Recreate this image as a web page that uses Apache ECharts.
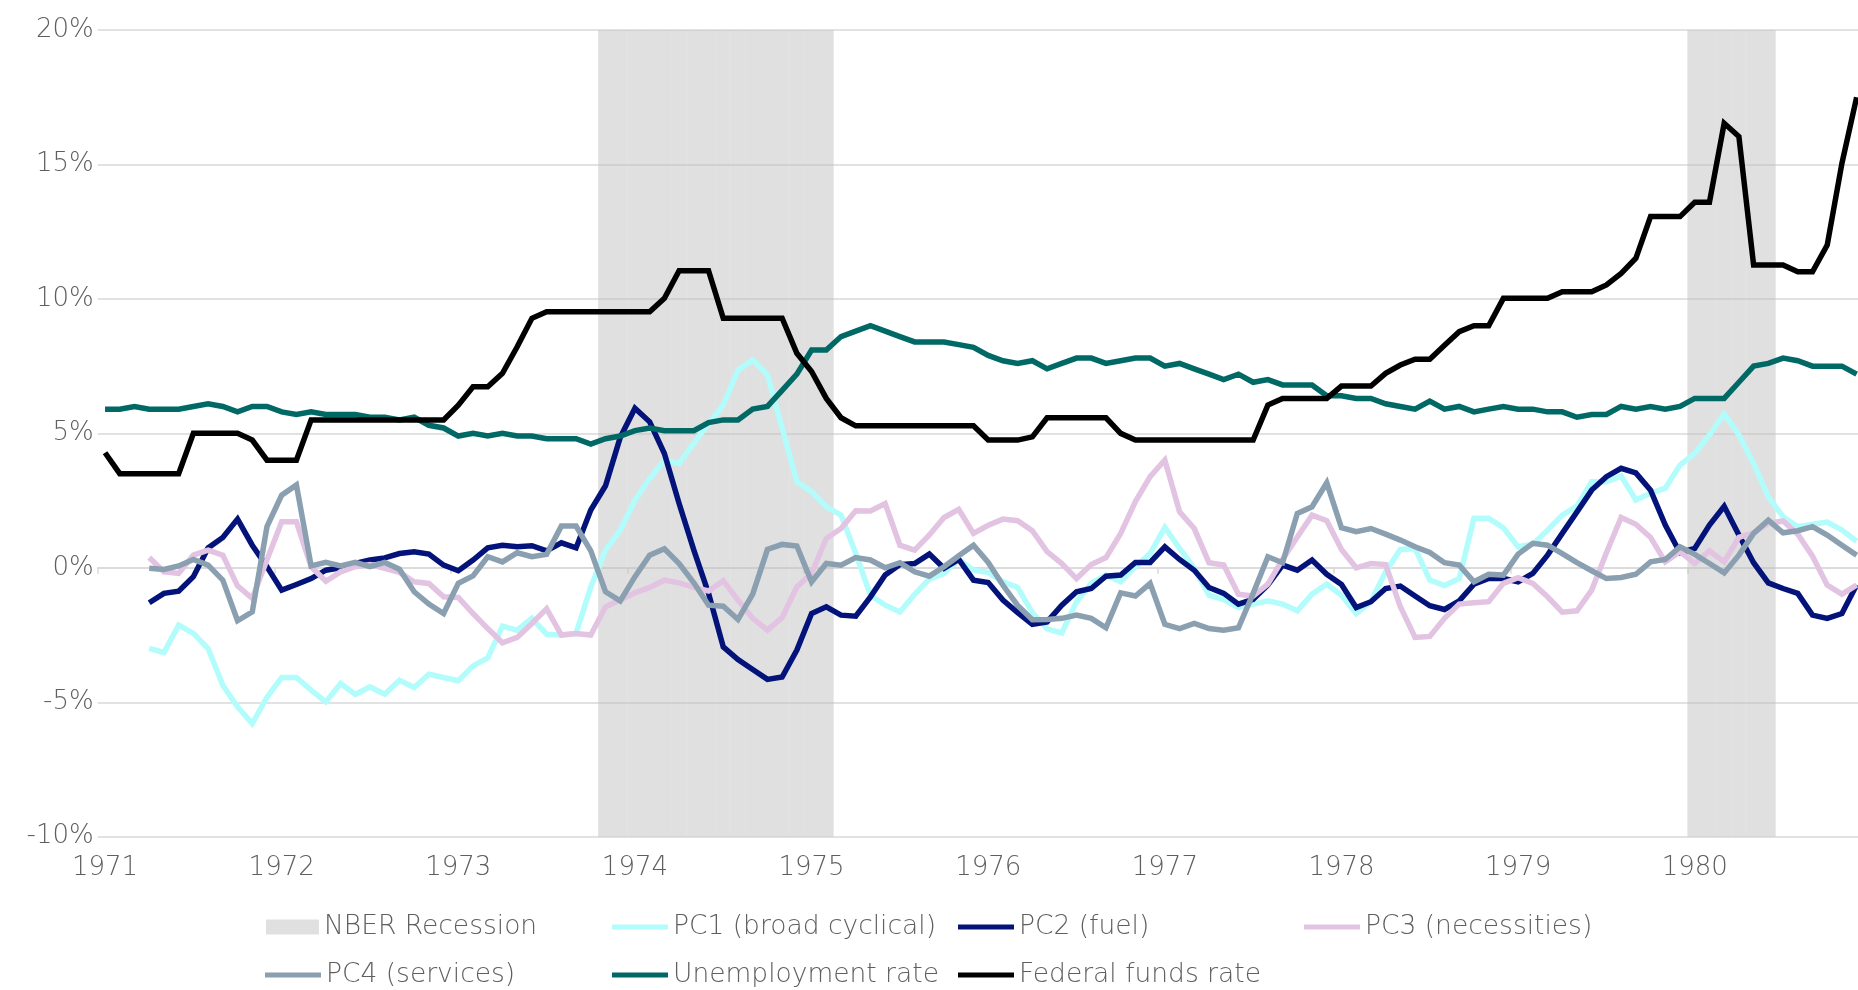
<!DOCTYPE html>
<html>
<head>
<meta charset="utf-8">
<script src="https://cdn.jsdelivr.net/npm/echarts@6/dist/echarts.min.js"></script>
<style>
html,body{margin:0;padding:0;background:#fff;}
#chart{width:1858px;height:990px;}
</style>
</head>
<body>
<div id="chart"></div>
<script>
// ---- Categories (monthly, Jan 1971 - Dec 1980) ----
const firstYear = 1971;
const lastYear = 1980;
const months = [];
for (let y = firstYear; y <= lastYear; y++) {
  for (let m = 1; m <= 12; m++) months.push(y + '-' + (m < 10 ? '0' + m : '' + m));
}

// ---- Y axis ticks ----
const yMin = -10, yMax = 20, yStep = 5;

// ---- NBER recession periods (as shaded in the chart) ----
const recessionPeriods = [['1973-11', '1975-02'], ['1980-01', '1980-06']];

// ---- Series values (%) ----
const pc1 = [
  null,null,null,-3.0,-3.15,-2.13,-2.44,-3.0,-4.37,-5.17,-5.79,-4.81,
  -4.08,-4.08,-4.55,-4.99,-4.30,-4.70,-4.43,-4.70,-4.18,-4.45,-3.96,-4.08,
  -4.20,-3.65,-3.35,-2.17,-2.32,-1.88,-2.47,-2.50,-2.44,-0.71,0.66,1.40,
  2.52,3.32,4.0,3.88,4.63,5.37,6.05,7.35,7.73,7.17,5.2,3.20,
  2.83,2.27,1.96,0.53,-1.02,-1.39,-1.64,-0.99,-0.42,-0.21,0.31,-0.09,
  -0.17,-0.52,-0.73,-1.67,-2.27,-2.42,-1.26,-0.58,-0.27,-0.52,0.04,0.53,
  1.50,0.72,-0.02,-1.02,-1.18,-1.48,-1.35,-1.23,-1.35,-1.60,-0.98,-0.61,
  -1.02,-1.70,-1.26,-0.15,0.68,0.72,-0.46,-0.66,-0.40,1.84,1.84,1.49,
  0.78,0.88,1.40,1.96,2.29,3.20,3.20,3.41,2.52,2.77,2.96,3.82,
  4.25,4.94,5.72,4.94,3.88,2.64,1.90,1.53,1.62,1.70,1.40,0.99
];
const pc2 = [
  null,null,null,-1.30,-0.95,-0.87,-0.33,0.74,1.13,1.81,0.84,0.04,
  -0.83,-0.62,-0.40,-0.09,0.0,0.16,0.29,0.37,0.53,0.60,0.51,0.10,
  -0.11,0.29,0.74,0.84,0.78,0.82,0.63,0.93,0.74,2.15,3.05,4.85,
  5.93,5.43,4.25,2.39,0.66,-0.95,-2.94,-3.41,-3.78,-4.15,-4.06,-3.06,
  -1.70,-1.45,-1.76,-1.80,-1.08,-0.27,0.12,0.16,0.51,-0.02,0.31,-0.46,
  -0.55,-1.20,-1.67,-2.10,-2.01,-1.39,-0.89,-0.77,-0.31,-0.27,0.20,0.20,
  0.78,0.31,-0.09,-0.73,-0.95,-1.35,-1.17,-0.64,0.10,-0.09,0.29,-0.24,
  -0.62,-1.48,-1.26,-0.77,-0.68,-1.05,-1.41,-1.55,-1.23,-0.61,-0.40,-0.40,
  -0.52,-0.21,0.47,1.28,2.08,2.89,3.39,3.70,3.53,2.89,1.59,0.56,
  0.72,1.59,2.29,1.22,0.19,-0.56,-0.77,-0.95,-1.76,-1.88,-1.70,-0.64
];
const pc3 = [
  null,null,null,0.38,-0.15,-0.21,0.47,0.66,0.47,-0.67,-1.14,0.3,
  1.71,1.71,0.04,-0.50,-0.15,0.04,0.12,-0.02,-0.17,-0.52,-0.58,-1.08,
  -1.10,-1.70,-2.26,-2.79,-2.59,-2.07,-1.52,-2.50,-2.44,-2.50,-1.45,-1.20,
  -0.93,-0.73,-0.46,-0.56,-0.73,-0.86,-0.48,-1.20,-1.88,-2.32,-1.85,-0.71,
  -0.21,1.09,1.46,2.12,2.11,2.39,0.84,0.66,1.22,1.87,2.17,1.28,
  1.58,1.81,1.75,1.38,0.60,0.16,-0.40,0.12,0.38,1.28,2.46,3.39,
  4.01,2.08,1.46,0.19,0.10,-0.98,-1.05,-0.61,0.31,1.15,1.96,1.75,
  0.68,0.0,0.16,0.12,-1.45,-2.59,-2.55,-1.88,-1.35,-1.30,-1.26,-0.58,
  -0.37,-0.58,-1.08,-1.65,-1.60,-0.83,0.56,1.87,1.62,1.13,0.22,0.60,
  0.16,0.63,0.22,1.13,1.30,1.65,1.74,1.25,0.43,-0.64,-0.98,-0.64
];
const pc4 = [
  null,null,null,-0.02,-0.06,0.07,0.31,0.10,-0.46,-1.97,-1.64,1.53,
  2.70,3.08,0.07,0.20,0.07,0.20,0.04,0.20,-0.05,-0.89,-1.35,-1.70,
  -0.58,-0.30,0.41,0.22,0.56,0.41,0.50,1.55,1.55,0.63,-0.89,-1.23,
  -0.33,0.47,0.71,0.16,-0.56,-1.39,-1.43,-1.92,-0.98,0.68,0.87,0.81,
  -0.52,0.16,0.10,0.38,0.29,0.0,0.19,-0.15,-0.31,0.04,0.45,0.84,
  0.2,-0.65,-1.4,-1.93,-1.92,-1.88,-1.76,-1.88,-2.23,-0.93,-1.05,-0.58,
  -2.10,-2.26,-2.07,-2.26,-2.32,-2.23,-0.95,0.41,0.19,2.02,2.27,3.16,
  1.49,1.34,1.46,1.25,1.03,0.78,0.57,0.19,0.10,-0.52,-0.24,-0.27,
  0.51,0.91,0.84,0.53,0.19,-0.11,-0.40,-0.36,-0.24,0.22,0.31,0.78,
  0.50,0.16,-0.19,0.47,1.28,1.77,1.30,1.38,1.53,1.22,0.84,0.47
];
const unemployment = [
  5.9,5.9,6.0,5.9,5.9,5.9,6.0,6.1,6.0,5.8,6.0,6.0,
  5.8,5.7,5.8,5.7,5.7,5.7,5.6,5.6,5.5,5.6,5.3,5.2,
  4.9,5.0,4.9,5.0,4.9,4.9,4.8,4.8,4.8,4.6,4.8,4.9,
  5.1,5.2,5.1,5.1,5.1,5.4,5.5,5.5,5.9,6.0,6.6,7.2,
  8.1,8.1,8.6,8.8,9.0,8.8,8.6,8.4,8.4,8.4,8.3,8.2,
  7.9,7.7,7.6,7.7,7.4,7.6,7.8,7.8,7.6,7.7,7.8,7.8,
  7.5,7.6,7.4,7.2,7.0,7.2,6.9,7.0,6.8,6.8,6.8,6.4,
  6.4,6.3,6.3,6.1,6.0,5.9,6.2,5.9,6.0,5.8,5.9,6.0,
  5.9,5.9,5.8,5.8,5.6,5.7,5.7,6.0,5.9,6.0,5.9,6.0,
  6.3,6.3,6.3,6.9,7.5,7.6,7.8,7.7,7.5,7.5,7.5,7.2
];
const fedFunds = [
  4.28,3.5,3.5,3.5,3.5,3.5,5.0,5.0,5.0,5.0,4.75,4.0,
  4.0,4.0,5.5,5.5,5.5,5.5,5.5,5.5,5.5,5.5,5.5,5.5,
  6.05,6.73,6.73,7.23,8.22,9.28,9.52,9.52,9.52,9.52,9.52,9.52,
  9.52,9.52,10.02,11.05,11.05,11.05,9.28,9.28,9.28,9.28,9.28,7.98,
  7.3,6.3,5.58,5.28,5.28,5.28,5.28,5.28,5.28,5.28,5.28,5.28,
  4.75,4.75,4.75,4.87,5.58,5.58,5.58,5.58,5.58,5.0,4.75,4.75,
  4.75,4.75,4.75,4.75,4.75,4.75,4.75,6.05,6.3,6.3,6.3,6.3,
  6.76,6.76,6.76,7.23,7.54,7.76,7.76,8.28,8.78,9.0,9.0,10.02,
  10.02,10.02,10.02,10.27,10.27,10.27,10.52,10.95,11.51,13.06,13.06,13.06,
  13.59,13.59,16.53,16.04,11.26,11.26,11.26,11.01,11.01,12.0,15.04,17.5
];

// ---- Build recession band bars (spanning the full axis) ----
function inRecession(m) {
  return recessionPeriods.some(p => m >= p[0] && m <= p[1]);
}
const nberUp = months.map(m => inRecession(m) ? yMax : null);
const nberDown = months.map(m => inRecession(m) ? yMin : null);

const FONT = "'DejaVu Sans ExtraLight', 'DejaVu Sans Light', 'DejaVu Sans', sans-serif";
const TXT = '#5f5f5f';
const GRID = '#d9d9d9';
const LW = 5.5;

const lineSeries = [
  {name: 'PC1 (broad cyclical)', data: pc1, color: '#b2fcfc'},
  {name: 'PC2 (fuel)', data: pc2, color: '#03137a'},
  {name: 'PC3 (necessities)', data: pc3, color: '#e2c3e2'},
  {name: 'PC4 (services)', data: pc4, color: '#8a9fb0'},
  {name: 'Unemployment rate', data: unemployment, color: '#006966'},
  {name: 'Federal funds rate', data: fedFunds, color: '#000000'}
];

const legendBase = {
  orient: 'horizontal', padding: 0, itemGap: 0,
  itemWidth: 56, itemHeight: 5, selectedMode: false,
  textStyle: {fontFamily: FONT, fontWeight: 200, fontSize: 26.5, color: TXT, lineHeight: 30}
};
const legendSlots = [
  {name: 'NBER Recession', left: 266, top: 912, w: 53, h: 15},
  {name: 'PC1 (broad cyclical)', left: 612, top: 912},
  {name: 'PC2 (fuel)', left: 958, top: 912},
  {name: 'PC3 (necessities)', left: 1304, top: 912},
  {name: 'PC4 (services)', left: 265, top: 960},
  {name: 'Unemployment rate', left: 612, top: 960},
  {name: 'Federal funds rate', left: 958, top: 960}
];

const labelFont = {fontFamily: FONT, fontWeight: 200, fontSize: 26, color: TXT};

const chart = echarts.init(document.getElementById('chart'), null, {renderer: 'canvas'});
chart.setOption({
  animation: false,
  backgroundColor: '#ffffff',
  grid: {left: 97.7, right: -6, top: 30, bottom: 153.3, containLabel: false, outerBoundsMode: 'none'},
  legend: legendSlots.map(s => Object.assign({}, legendBase, {
    left: s.left, top: s.top,
    itemWidth: s.w || 56,
    itemHeight: s.h || 5,
    icon: 'rect',
    data: [s.name]
  })),
  xAxis: [
    {
      // year labels at the bottom of the plot
      type: 'category', data: months, boundaryGap: true, position: 'bottom',
      axisLine: {show: false, onZero: false},
      axisTick: {show: false},
      axisLabel: Object.assign({interval: 11, margin: 32, verticalAlign: 'middle',
        formatter: v => v.slice(0, 4)}, labelFont),
      splitLine: {show: false}
    },
    {
      // axis line with year ticks, crossing at 0%
      type: 'category', data: months, boundaryGap: true, position: 'bottom',
      axisLine: {show: true, onZero: true, lineStyle: {color: GRID, width: 1.5}},
      axisTick: {show: true, interval: 11, length: 6, lineStyle: {color: GRID, width: 1.5}},
      axisLabel: {show: false},
      splitLine: {show: false}
    }
  ],
  yAxis: {
    type: 'value', min: yMin, max: yMax, interval: yStep,
    axisLine: {show: false}, axisTick: {show: false},
    axisLabel: Object.assign({formatter: '{value}%', margin: 4}, labelFont),
    splitLine: {show: true, lineStyle: {color: GRID, width: 1.5}}
  },
  series: [
    {name: 'NBER Recession', type: 'bar', stack: 'nber', data: nberUp, barCategoryGap: '0%',
     itemStyle: {color: '#bfbfbf', opacity: 0.484}, silent: true},
    {name: 'NBER Recession', type: 'bar', stack: 'nber', data: nberDown, barCategoryGap: '0%',
     itemStyle: {color: '#bfbfbf', opacity: 0.484}, silent: true}
  ].concat(lineSeries.map(s => ({
    name: s.name, type: 'line', data: s.data, symbol: 'none', showSymbol: false,
    connectNulls: false, color: s.color,
    lineStyle: {color: s.color, width: LW, join: 'miter'},
    itemStyle: {color: s.color},
    emphasis: {disabled: true}
  })))
});
</script>
</body>
</html>
